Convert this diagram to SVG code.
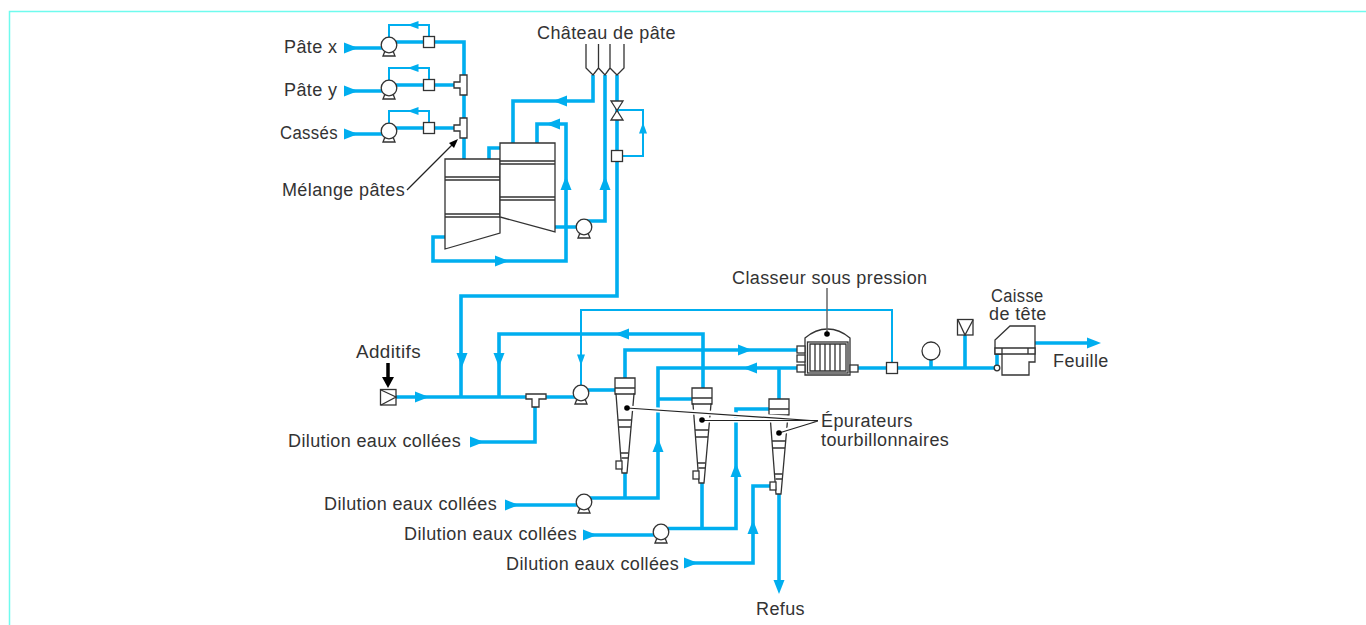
<svg xmlns="http://www.w3.org/2000/svg" xmlns:xlink="http://www.w3.org/1999/xlink" width="1366" height="625" viewBox="0 0 1366 625">
<style>
text{font-family:"Liberation Sans",Arial,sans-serif;font-size:18px;letter-spacing:.38px;fill:#333}
.p{fill:none;stroke:#00aeef;stroke-width:3.6}
.t{fill:none;stroke:#00aeef;stroke-width:2}
.k{fill:#fff;stroke:#333;stroke-width:1.3}
.n{fill:none;stroke:#333;stroke-width:1.3}
.h{fill:none;stroke:#fff;stroke-width:5}
.l{fill:none;stroke:#222;stroke-width:1.2}
.a{fill:#00aeef}
</style>
<defs>
<path id="a" class="a" d="M-7,-5.5 L7,0 L-7,5.5Z"/>
<path id="b" class="a" d="M-5.5,-4 L5.5,0 L-5.5,4Z"/>
<g id="pump"><path class="k" d="M-6,11 L-4,6 H4 L6,11 Z"/><circle class="k" r="7.8"/></g>
<rect id="sq" class="k" x="-5.5" y="-5.5" width="11" height="11"/>
<g id="nub"><rect class="k" x="-4" y="-3.5" width="8" height="7"/></g>
<g id="cyc">
<path class="k" d="M0,0 H20 V16 H19 L12,95 H7 L1,16 H0 Z"/>
<path class="n" d="M0,10 H20 M0,16 H20 M3,42 H17 M3.5,49 H16 M6,75 H13.500 M6.500,80 H13"/>
<rect class="k" x="1" y="83" width="6" height="8"/>
</g>
</defs>
<g id="frame"><path d="M9.500,625 V11.500 H1366" fill="none" stroke="#6ffbee" stroke-width="1.500"/></g>
<g id="connectors">
<path class="p" d="M350,48 H385 M389,42 H464 V159"/>
<path class="p" d="M350,91 H385 M389,85 H460"/>
<path class="p" d="M350,134 H385 M389,128 H460"/>
<path class="t" d="M389,38 V25 H429 V38 M389,81 V68 H429 V81 M389,124 V111 H429 V124"/>
<path class="p" d="M489,159 V148 H500"/>
<path class="p" d="M513,143 V101 H593 V75"/>
<path class="p" d="M537,143 V124 H566 V261 H433 V237 H445"/>
<path class="p" d="M555,227 H584 M584,221 H605 V75"/>
<path class="p" d="M617,75 V296 H461 V397"/>
<path class="t" d="M617,110 H643 V156 H620"/>
<path class="p" d="M396,397 H581"/>
<path class="p" d="M499,397 V334 H703 V388"/>
<path class="p" d="M535,399 V442 H475"/>
<path class="t" d="M581,386 V310 H892 V365"/>
<path class="p" d="M588,390 H615"/>
<path class="p" d="M625,378 V350 H798"/>
<path class="p" d="M798,368 H658 V498 H590"/>
<path class="p" d="M658,399 H692"/>
<path class="p" d="M779,368 V399"/>
<path class="p" d="M769,409 H736 V528.500 H668"/>
<path class="p" d="M511,505 H578 M625,473 V498"/>
<path class="p" d="M590,535 H655 M702,483 V528"/>
<path class="p" d="M690,563 H753 V486 H771"/>
<path class="p" d="M779,494 V582"/>
<path class="p" d="M858,368 H997 M965,335 V368 M931,360 V368"/>
<path class="p" d="M997,368 V354"/>
<path class="p" d="M1035,343 H1090"/>
<use xlink:href="#a" href="#a" transform="translate(351,48)"/>
<use xlink:href="#a" href="#a" transform="translate(351,91)"/>
<use xlink:href="#a" href="#a" transform="translate(351,134)"/>
<use xlink:href="#b" href="#b" transform="translate(413,25) rotate(180)"/>
<use xlink:href="#b" href="#b" transform="translate(413,68) rotate(180)"/>
<use xlink:href="#b" href="#b" transform="translate(413,111) rotate(180)"/>
<use xlink:href="#a" href="#a" transform="translate(560,101) rotate(180)"/>
<use xlink:href="#a" href="#a" transform="translate(553,124) rotate(180)"/>
<use xlink:href="#a" href="#a" transform="translate(566,183) rotate(-90)"/>
<use xlink:href="#a" href="#a" transform="translate(605,183) rotate(-90)"/>
<use xlink:href="#a" href="#a" transform="translate(502,261)"/>
<use xlink:href="#b" href="#b" transform="translate(643,128) rotate(-90)"/>
<use xlink:href="#a" href="#a" transform="translate(422,397)"/>
<use xlink:href="#a" href="#a" transform="translate(462,360) rotate(90)"/>
<use xlink:href="#a" href="#a" transform="translate(499,360) rotate(90)"/>
<use xlink:href="#b" href="#b" transform="translate(581,360) rotate(90)"/>
<use xlink:href="#a" href="#a" transform="translate(477,442)"/>
<use xlink:href="#a" href="#a" transform="translate(622,334) rotate(180)"/>
<use xlink:href="#a" href="#a" transform="translate(745,350)"/>
<use xlink:href="#a" href="#a" transform="translate(750,368) rotate(180)"/>
<use xlink:href="#a" href="#a" transform="translate(658,445) rotate(-90)"/>
<use xlink:href="#a" href="#a" transform="translate(736,470) rotate(-90)"/>
<use xlink:href="#a" href="#a" transform="translate(753,527) rotate(-90)"/>
<use xlink:href="#a" href="#a" transform="translate(512,505)"/>
<use xlink:href="#a" href="#a" transform="translate(590,535)"/>
<use xlink:href="#a" href="#a" transform="translate(691,563)"/>
<use xlink:href="#a" href="#a" transform="translate(779,587) rotate(90)"/>
<use xlink:href="#a" href="#a" transform="translate(1094,343)"/>
</g>
<g id="pump-x"><use xlink:href="#pump" href="#pump" transform="translate(389,45)"/><use xlink:href="#sq" href="#sq" transform="translate(429,42)"/></g>
<g id="pump-y"><use xlink:href="#pump" href="#pump" transform="translate(389,88)"/><use xlink:href="#sq" href="#sq" transform="translate(429,85)"/></g>
<g id="pump-c"><use xlink:href="#pump" href="#pump" transform="translate(389,131)"/><use xlink:href="#sq" href="#sq" transform="translate(429,128)"/></g>
<g id="tee-1"><path class="k" d="M454,82 H460 V75 H467 V95 H460 V88 H454 Z"/></g>
<g id="tee-2"><path class="k" d="M454,125 H460 V118 H467 V138 H460 V131 H454 Z"/></g>
<g id="tanks">
<path class="k" d="M445,159 H500 V233 L445,249 Z"/>
<path class="n" d="M445,177 H500 M445,180 H500 M445,214 H500 M445,217 H500"/>
<path class="k" d="M500,143 H555 V232 L500,217 Z"/>
<path class="n" d="M500,161 H555 M500,164 H555 M500,197 H555 M500,200 H555"/>
</g>
<g id="silo"><path class="n" d="M586,44 V68 L593,75 L598.500,68 V44 M598.500,68 L605,75 L610,68 V44 M610,68 L617,75 L624,68 V44"/></g>
<g id="valve"><path class="k" d="M611,101 H623 L611,120 H623 Z"/><use xlink:href="#sq" href="#sq" transform="translate(617,156)"/></g>
<g id="pump-t"><use xlink:href="#pump" href="#pump" transform="translate(584,227)"/></g>
<g id="additifs">
<rect class="k" x="380.500" y="389.500" width="15.500" height="15.500"/><path class="n" d="M381,390 L396,397 L381,405"/>
<path d="M388,363 V378" stroke="#000" stroke-width="3.500"/><path d="M382,377 H394 L388,388 Z" fill="#000"/>
</g>
<g id="tee-3"><path class="k" d="M526,394 H546 V399 H539 V407 H532 V399 H526 Z"/></g>
<g id="pump-1"><use xlink:href="#pump" href="#pump" transform="translate(581,393)"/></g>
<g id="pump-2"><use xlink:href="#pump" href="#pump" transform="translate(584,502)"/></g>
<g id="pump-3"><use xlink:href="#pump" href="#pump" transform="translate(661,532)"/></g>
<g id="cyclone-1"><use xlink:href="#cyc" href="#cyc" transform="translate(615,378)"/></g>
<g id="cyclone-2"><use xlink:href="#cyc" href="#cyc" transform="translate(692,388)"/></g>
<g id="cyclone-3"><use xlink:href="#cyc" href="#cyc" transform="translate(769,399)"/></g>
<g id="leaders">
<path class="h" d="M630,408.200 L803,419 M705,420 H803 M782,432 L798,427"/>
<path class="l" d="M627,408 L818,421 M702,420.500 H818 M779,433 L818,421"/>
<circle cx="627" cy="408" r="2.800" fill="#000"/><circle cx="702" cy="420" r="2.800" fill="#000"/><circle cx="779" cy="433" r="2.800" fill="#000"/>
<path class="l" d="M407,190 L452,145"/><path d="M458,139 L454,148 L449,143 Z" fill="#000"/>
</g>
<g id="classeur">
<path class="k" d="M805,338 C812,332 820,329 827.500,329 C835,329 843,332 850,338 V375 H805 Z"/>
<rect class="k" x="807.500" y="342" width="40.500" height="31"/>
<path class="n" d="M810,344 H846 V371 H810 Z M815,344 V371 M820,344 V371 M825,344 V371 M830,344 V371 M835,344 V371 M840,344 V371"/>
<use xlink:href="#nub" href="#nub" transform="translate(801,349.500)"/>
<use xlink:href="#nub" href="#nub" transform="translate(801,358.500)"/>
<use xlink:href="#nub" href="#nub" transform="translate(801,368.500)"/>
<use xlink:href="#nub" href="#nub" transform="translate(854,368.500)"/>
<path d="M827,288 V334" stroke="#666" stroke-width="1.500"/><circle cx="827" cy="334" r="2.800" fill="#000"/>
</g>
<g id="sq-out"><use xlink:href="#sq" href="#sq" transform="translate(892,368)"/></g>
<g id="gauge"><circle class="k" cx="931" cy="351" r="9"/></g>
<g id="box"><rect class="k" x="957.500" y="319.500" width="15.500" height="15.500"/><path class="n" d="M958,320 L965,335 L973,320"/></g>
<g id="caisse">
<path class="k" d="M1002,354 V375 H1029 V362 H1035 V326 H1010 L995,340 V354 Z"/>
<path class="k" d="M995,348 H1035 V354 H995 Z"/>
<path class="n" d="M1002,348 V354 M1028,348 V354"/>
<circle class="k" cx="997" cy="368" r="2.800"/>
</g>
<g id="labels">
<text x="284" y="53">Pâte x</text>
<text x="284" y="96">Pâte y</text>
<text x="280" y="139" textLength="58" lengthAdjust="spacingAndGlyphs">Cassés</text>
<text x="282" y="196">Mélange pâtes</text>
<text x="537" y="39">Château de pâte</text>
<text x="732" y="284">Classeur sous pression</text>
<text x="991" y="302" textLength="52.500" lengthAdjust="spacingAndGlyphs">Caisse</text>
<text x="989" y="320">de tête</text>
<text x="1053" y="367">Feuille</text>
<text x="356" y="358" textLength="65" lengthAdjust="spacingAndGlyphs">Additifs</text>
<text x="288" y="447">Dilution eaux collées</text>
<text x="324" y="510">Dilution eaux collées</text>
<text x="404" y="540">Dilution eaux collées</text>
<text x="506" y="570">Dilution eaux collées</text>
<text x="756" y="615">Refus</text>
<text x="821" y="427">Épurateurs</text>
<text x="821" y="446">tourbillonnaires</text>
</g>
</svg>
